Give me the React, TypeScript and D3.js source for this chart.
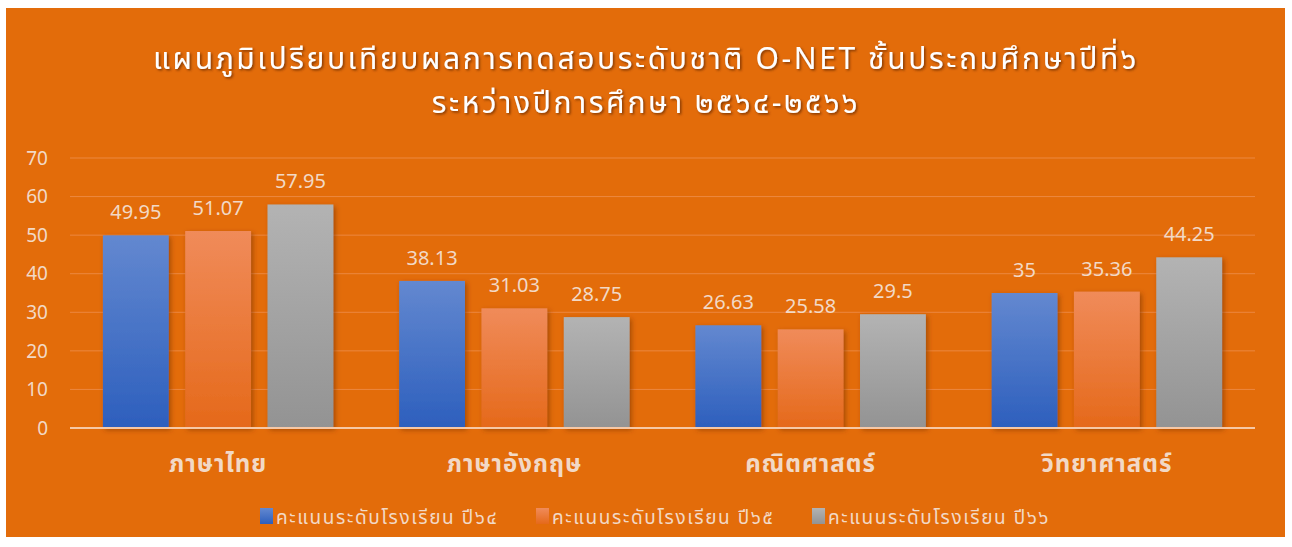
import { useRef, useEffect } from 'react';
import * as d3 from 'd3';

const categories = ['ภาษาไทย', 'ภาษาอังกฤษ', 'คณิตศาสตร์', 'วิทยาศาสตร์'];
const seriesNames = ['คะแนนระดับโรงเรียน ปี๖๔', 'คะแนนระดับโรงเรียน ปี๖๕', 'คะแนนระดับโรงเรียน ปี๖๖'];
const year64 = [49.95, 38.13, 26.63, 35];
const year65 = [51.07, 31.03, 25.58, 35.36];
const year66 = [57.95, 28.75, 29.5, 44.25];
const yTicks = [0, 10, 20, 30, 40, 50, 60, 70];
const titleLines = [
  'แผนภูมิเปรียบเทียบผลการทดสอบระดับชาติ O-NET ชั้นประถมศึกษาปีที่๖',
  'ระหว่างปีการศึกษา ๒๕๖๔-๒๕๖๖',
];

const FONT = '"Noto Sans Thai", "Leelawadee UI", "Noto Sans", "DejaVu Sans", sans-serif';

export default function App() {
  const ref = useRef<SVGSVGElement>(null);

  useEffect(() => {
    const svg = d3.select(ref.current);
    svg.selectAll('*').remove();

    const width = 1292;
    const height = 547;
    const margin = { top: 158, right: 37, bottom: 119, left: 70 };
    const innerW = width - margin.left - margin.right;
    const innerH = height - margin.top - margin.bottom;

    const series = [year64, year65, year66];
    const gradStops = [
      ['#6388d0', '#2d5fbd'],
      ['#f08b5a', '#e5691a'],
      ['#b3b3b3', '#939393'],
    ];

    const defs = svg.append('defs');
    gradStops.forEach((s, i) => {
      const lg = defs.append('linearGradient').attr('id', `g${i}`).attr('x1', 0).attr('y1', 0).attr('x2', 0).attr('y2', 1);
      lg.append('stop').attr('offset', '0%').attr('stop-color', s[0]);
      lg.append('stop').attr('offset', '100%').attr('stop-color', s[1]);
    });
    const sh = defs.append('filter').attr('id', 'shadow').attr('x', '-20%').attr('y', '-20%').attr('width', '150%').attr('height', '150%');
    sh.append('feDropShadow').attr('dx', 2).attr('dy', 2).attr('stdDeviation', 2.5).attr('flood-color', '#7a3000').attr('flood-opacity', 0.6);
    const tsh = defs.append('filter').attr('id', 'tshadow');
    tsh.append('feDropShadow').attr('dx', 1.5).attr('dy', 1.5).attr('stdDeviation', 0.8).attr('flood-color', '#6a2a00').attr('flood-opacity', 0.8);

    svg.append('rect').attr('width', width).attr('height', height).attr('fill', '#ffffff');
    svg.append('rect').attr('x', 6).attr('y', 8).attr('width', 1279).attr('height', 529).attr('fill', '#e36c0a');

    // title
    svg.append('g').attr('filter', 'url(#tshadow)')
      .selectAll('text').data(titleLines).join('text')
      .attr('x', 646).attr('y', (d, i) => 69 + i * 44)
      .attr('text-anchor', 'middle')
      .attr('font-family', FONT).attr('font-size', 30).attr('letter-spacing', 2.6)
      .attr('fill', '#ffffff')
      .text(d => d);

    const g = svg.append('g').attr('transform', `translate(${margin.left},${margin.top})`);

    const x0 = d3.scaleBand().domain(categories).range([0, innerW]).paddingInner(0.222).paddingOuter(0.111);
    const x1 = d3.scaleBand().domain(['0', '1', '2']).range([0, x0.bandwidth()]).paddingInner(0.2);
    const y = d3.scaleLinear().domain([0, 70]).range([innerH, 0]);

    // gridlines
    g.selectAll('.grid').data(yTicks.slice(1)).join('line')
      .attr('x1', 0).attr('x2', innerW)
      .attr('y1', d => y(d)).attr('y2', d => y(d))
      .attr('stroke', '#ec8840').attr('stroke-width', 1);

    // y labels
    g.selectAll('.ylab').data(yTicks).join('text')
      .attr('x', -22).attr('y', d => y(d)).attr('dy', '0.35em')
      .attr('text-anchor', 'end')
      .attr('font-family', FONT).attr('font-size', 19)
      .attr('fill', '#f2d9c6')
      .text(d => d);

    // bars
    series.forEach((vals, si) => {
      g.append('g').selectAll('rect').data(vals).join('rect')
        .attr('x', (d, i) => (x0(categories[i]) as number) + (x1(String(si)) as number))
        .attr('y', d => y(d))
        .attr('width', x1.bandwidth())
        .attr('height', d => innerH - y(d))
        .attr('fill', `url(#g${si})`)
        .attr('filter', 'url(#shadow)');

      g.append('g').selectAll('text').data(vals).join('text')
        .attr('x', (d, i) => (x0(categories[i]) as number) + (x1(String(si)) as number) + x1.bandwidth() / 2)
        .attr('y', d => y(d) - 16)
        .attr('text-anchor', 'middle')
        .attr('font-family', FONT).attr('font-size', 20)
        .attr('fill', '#f2d9c6')
        .text(d => String(d));
    });

    // baseline
    g.append('line').attr('x1', 0).attr('x2', innerW).attr('y1', innerH).attr('y2', innerH)
      .attr('stroke', '#f6c8a6').attr('stroke-width', 2);

    // category labels
    g.selectAll('.xlab').data(categories).join('text')
      .attr('x', d => (x0(d) as number) + x0.bandwidth() / 2)
      .attr('y', innerH + 44)
      .attr('text-anchor', 'middle')
      .attr('font-family', FONT).attr('font-size', 24).attr('font-weight', 'bold').attr('letter-spacing', 1)
      .attr('fill', '#f2d9c6')
      .text(d => d);

    // legend
    const legendX = [260, 536, 812];
    const lg = svg.append('g');
    seriesNames.forEach((name, i) => {
      lg.append('rect').attr('x', legendX[i]).attr('y', 508).attr('width', 13).attr('height', 16)
        .attr('fill', `url(#g${i})`);
      lg.append('text').attr('x', legendX[i] + 16).attr('y', 517).attr('dy', '0.35em')
        .attr('font-family', FONT).attr('font-size', 19).attr('letter-spacing', 1.6)
        .attr('fill', '#f2d9c6')
        .text(name);
    });
  }, []);

  return (
    <svg ref={ref} width={1292} height={547} style={{ position: 'absolute', left: 0, top: 0 }}></svg>
  );
}
